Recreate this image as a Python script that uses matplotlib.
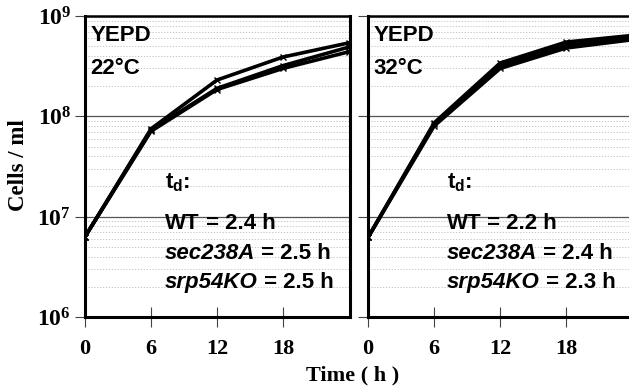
import math
import matplotlib
matplotlib.use('Agg')
import matplotlib.pyplot as plt
from matplotlib.ticker import FixedLocator, FuncFormatter, NullFormatter

# growth curves (cells / ml)
hours = [0, 6, 12, 18, 24]
strains = ['WT', 'sec238A', 'srp54KO']

cells_22 = {
    'WT':      [6.3e6, 7.5e7, 2.3e8, 3.9e8, 5.4e8],
    'sec238A': [6.3e6, 7.3e7, 1.9e8, 3.2e8, 4.9e8],
    'srp54KO': [6.3e6, 7.1e7, 1.85e8, 3.0e8, 4.4e8],
}
cells_32 = {
    'WT':      [6.2e6, 8.6e7, 3.4e8, 5.5e8, 6.4e8],
    'sec238A': [6.2e6, 8.3e7, 3.2e8, 5.1e8, 6.1e8],
    'srp54KO': [6.2e6, 8.0e7, 3.0e8, 4.8e8, 5.8e8],
}
td_22 = {'WT': '2.4 h', 'sec238A': '2.5 h', 'srp54KO': '2.5 h'}
td_32 = {'WT': '2.2 h', 'sec238A': '2.4 h', 'srp54KO': '2.3 h'}
xticks = [0, 6, 12, 18]

plt.rcParams['mathtext.fontset'] = 'custom'
plt.rcParams['mathtext.rm'] = 'Liberation Serif:bold'
plt.rcParams['mathtext.sf'] = 'Liberation Sans:bold'

SANS = 'Liberation Sans'
SERIF = 'Liberation Serif'

fig = plt.figure(figsize=(6.29, 3.88), dpi=100)
ax1 = fig.add_axes([85 / 629, 1 - 317 / 388, 265 / 629, 301 / 388])
ax2 = fig.add_axes([368 / 629, 1 - 317 / 388, 261 / 629, 301 / 388])


def style(ax, xmax, temp, td, data, show_ylabels):
    for s in strains:
        ax.plot(hours, data[s], color='black', lw=2.6, marker='x', ms=4,
                mew=1, zorder=3)
    ax.set_yscale('log')
    ax.set_ylim(1e6, 1e9)
    ax.set_xlim(0, xmax)
    ax.yaxis.set_major_locator(FixedLocator([1e6, 1e7, 1e8, 1e9]))
    minors = [m * 10 ** e for e in (6, 7, 8) for m in range(2, 10)]
    ax.yaxis.set_minor_locator(FixedLocator(minors))
    ax.yaxis.set_minor_formatter(NullFormatter())
    if show_ylabels:
        ax.yaxis.set_major_formatter(FuncFormatter(
            lambda v, p: r'$\mathrm{10^{%d}}$' % round(math.log10(v))))
    else:
        ax.yaxis.set_major_formatter(NullFormatter())
    ax.set_xticks(xticks)
    ax.set_xticklabels([str(t) for t in xticks], fontfamily=SERIF,
                       fontweight='bold', fontsize=16)
    for lab in ax.get_yticklabels():
        lab.set_fontsize(17)
    ax.tick_params(axis='y', which='major', direction='out', length=7,
                   width=0.8, color='#444444', pad=3)
    ax.tick_params(axis='y', which='minor', length=0)
    ax.tick_params(axis='x', direction='inout', length=15, width=0.8,
                   color='#444444', pad=8)
    ax.grid(True, which='major', axis='y', color='#555555', lw=0.9)
    ax.grid(True, which='minor', axis='y', color='#bbbbbb', lw=0.6,
            linestyle=(0, (1.5, 2)))
    for side in ('left', 'bottom', 'top', 'right'):
        ax.spines[side].set_linewidth(2.2)
    ax.spines['top'].set_linewidth(1.8)

    ax.text(0.02, 0.97, 'YEPD', transform=ax.transAxes, ha='left', va='top',
            fontfamily=SANS, fontweight='bold', fontsize=16)
    ax.text(0.02, 0.86, temp, transform=ax.transAxes, ha='left', va='top',
            fontfamily=SANS, fontweight='bold', fontsize=16)
    x0 = 80 / 265
    ax.text(x0, 0.445, r'$\mathsf{t_d}$:', transform=ax.transAxes,
            ha='left', va='center', fontfamily=SANS, fontweight='bold',
            fontsize=16)
    ys = [0.31, 0.21, 0.115]
    for s, y in zip(strains, ys):
        style_ = 'normal' if s == 'WT' else 'italic'
        t = ax.text(x0, y, s, transform=ax.transAxes, ha='left',
                    va='center', fontfamily=SANS, fontweight='bold',
                    fontstyle=style_, fontsize=16)
        ax.annotate(' = ' + td[s], xy=(1, 0.5), xycoords=t,
                    ha='left', va='center', fontfamily=SANS,
                    fontweight='bold', fontsize=16)


style(ax1, 24.1, '22°C', td_22, cells_22, True)
style(ax2, 23.7, '32°C', td_32, cells_32, False)
ax2.spines['right'].set_visible(False)

fig.text(19 / 629, 1 - 165 / 388, 'Cells / ml', rotation=90, ha='center',
         va='center', fontfamily=SERIF, fontweight='bold', fontsize=16.5)
fig.text(353 / 629, 1 - 375 / 388, 'Time ( h )', ha='center', va='center',
         fontfamily=SERIF, fontweight='bold', fontsize=16)

fig.savefig('out.png', dpi=100)
